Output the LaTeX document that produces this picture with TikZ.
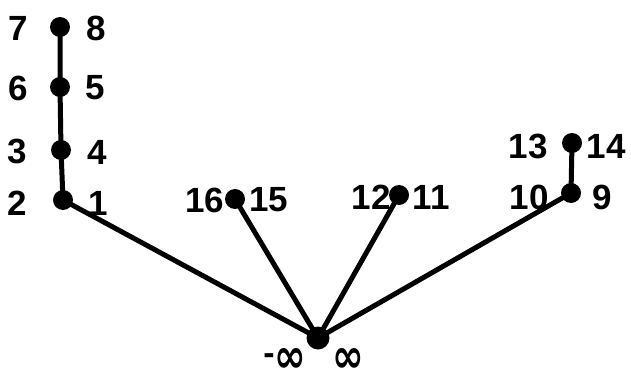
\documentclass[tikz,border=0pt]{standalone}
\usepackage{fontspec}
\setmainfont{Liberation Sans}
\newfontfamily\symfont{DejaVu Sans}
\begin{document}
\begin{tikzpicture}[x=1pt,y=-1pt,
  dot/.style={circle,fill=black,inner sep=0pt,minimum size=20pt},
  bigdot/.style={circle,fill=black,inner sep=0pt,minimum size=23pt},
  lbl/.style={font=\fontsize{35}{35}\selectfont\bfseries,inner sep=0pt},
  inf/.style={font=\fontsize{38}{38}\selectfont\bfseries\symfont,inner sep=0pt},
  edge/.style={line width=5pt,line cap=round}]
\useasboundingbox (0,0) rectangle (631,377);
\node[dot] (d) at (60,27) {};
\node[dot] (c) at (60,87) {};
\node[dot] (b) at (61,150) {};
\node[dot] (a) at (63,200) {};
\node[dot] (e) at (235,199) {};
\node[dot] (f) at (399,195) {};
\node[dot] (h) at (572,143) {};
\node[dot] (g) at (571,193) {};
\node[bigdot] (r) at (318,338) {};
\draw[edge] (d.center) -- (c.center) -- (b.center) -- (a.center);
\draw[edge] (h.center) -- (g.center);
\draw[edge] (a.center) -- (r.center);
\draw[edge] (e.center) -- (r.center);
\draw[edge] (f.center) -- (r.center);
\draw[edge] (g.center) -- (r.center);
\node[lbl] (l7) at (18,28) {7};
\node[lbl] (l8) at (96,28) {8};
\node[lbl] (l6) at (18,88) {6};
\node[lbl] (l5) at (95,88) {5};
\node[lbl] (l3) at (17,151) {3};
\node[lbl] (l4) at (97,152) {4};
\node[lbl] (l2) at (17,203) {2};
\node[lbl] (l1) at (98,203) {1};
\node[lbl] (l16) at (205,200) {16};
\node[lbl] (l15) at (269,200) {15};
\node[lbl] (l12) at (371,197) {12};
\node[lbl] (l11) at (431,197) {11};
\node[lbl] (l13) at (528,146) {13};
\node[lbl] (l14) at (606,146) {14};
\node[lbl] (l10) at (529,197) {10};
\node[lbl] (l9) at (602,197) {9};
\node[lbl,font=\fontsize{34}{34}\selectfont\bfseries] (lmin) at (269,359) {-};
\node[inf] (lmi) at (290,360) {\scalebox{1}[1.25]{∞}};
\node[inf] (lpi) at (348,360) {\scalebox{1}[1.25]{∞}};
\end{tikzpicture}
\end{document}
